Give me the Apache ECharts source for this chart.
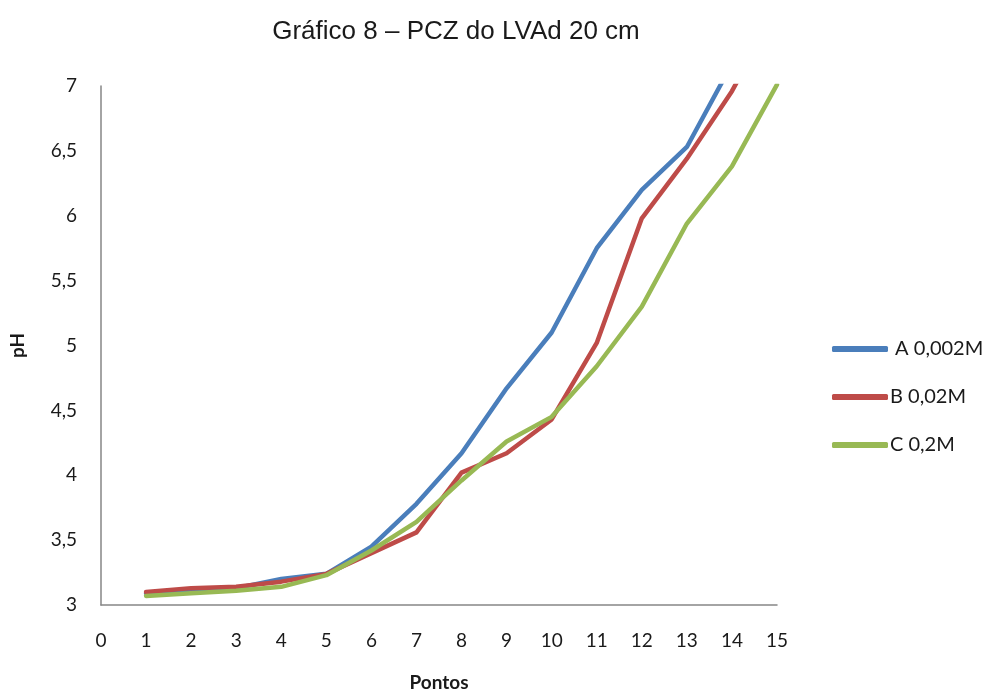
<!DOCTYPE html>
<html>
<head>
<meta charset="utf-8">
<script src="https://cdn.jsdelivr.net/npm/echarts@6/dist/echarts.min.js"></script>
<style>
  html, body { margin: 0; padding: 0; background: #fff; }
  #chart { width: 1003px; height: 697px; }
</style>
</head>
<body>
<div id="chart"></div>
<script>
// Pontos (x) and pH readings for each solution
const pontos = [1, 2, 3, 4, 5, 6, 7, 8, 9, 10, 11, 12, 13, 14, 15];
const phA = [3.09, 3.12, 3.13, 3.20, 3.24, 3.45, 3.78, 4.17, 4.67, 5.10, 5.75, 6.20, 6.53, 7.17, 7.80];
const phB = [3.10, 3.13, 3.14, 3.18, 3.24, 3.40, 3.56, 4.02, 4.17, 4.43, 5.02, 5.98, 6.44, 6.96, 7.60];
const phC = [3.07, 3.09, 3.11, 3.14, 3.23, 3.42, 3.64, 3.96, 4.26, 4.45, 4.84, 5.30, 5.94, 6.38, 7.01];
const seriesNames = [' A 0,002M', 'B 0,02M', 'C 0,2M'];
const seriesColors = ['#4A7EBB', '#BE4B48', '#98B954'];
const xTicks = { min: 0, max: 15, step: 1 };
const yTicks = { min: 3, max: 7, step: 0.5 };

const tickFont = 'Lato, "Open Sans", sans-serif';
const toPairs = ys => pontos.map((x, i) => [x, ys[i]]);

const chart = echarts.init(document.getElementById('chart'), null, { renderer: 'canvas' });
chart.setOption({
  animation: false,
  backgroundColor: '#ffffff',
  title: {
    text: 'Gráfico 8 – PCZ do LVAd 20 cm',
    left: 451,
    textAlign: 'center',
    top: 14,
    textStyle: { fontFamily: '"Liberation Sans", Arial, sans-serif', fontSize: 26, fontWeight: 'normal', color: '#1a1a1a' }
  },
  legend: {
    orient: 'vertical',
    left: 832,
    top: 339,
    padding: 0,
    itemWidth: 56,
    itemHeight: 6,
    itemGap: 28,
    icon: 'roundRect',
    data: seriesNames,
    textStyle: { fontFamily: tickFont, fontSize: 20, lineHeight: 20, color: '#1a1a1a', padding: [0, 0, 0, -3] }
  },
  grid: { left: 101, top: 86, right: 226, bottom: 83, containLabel: false },
  xAxis: {
    type: 'value',
    min: xTicks.min,
    max: xTicks.max,
    interval: xTicks.step,
    name: 'Pontos',
    nameLocation: 'middle',
    nameGap: 68,
    nameTextStyle: { fontFamily: tickFont, fontSize: 19, fontWeight: 'bold', color: '#1a1a1a' },
    axisLine: { show: true, lineStyle: { color: '#868686', width: 1.5 } },
    axisTick: { show: false },
    splitLine: { show: false },
    axisLabel: { margin: 26, fontFamily: tickFont, fontSize: 19, color: '#1a1a1a' }
  },
  yAxis: {
    type: 'value',
    min: yTicks.min,
    max: yTicks.max,
    interval: yTicks.step,
    name: 'pH',
    nameLocation: 'middle',
    nameGap: 74,
    nameTextStyle: { fontFamily: tickFont, fontSize: 19, fontWeight: 'bold', color: '#1a1a1a' },
    axisLine: { show: true, lineStyle: { color: '#868686', width: 1.5 } },
    axisTick: { show: false },
    splitLine: { show: false },
    axisLabel: {
      margin: 24,
      fontFamily: tickFont,
      fontSize: 19,
      color: '#1a1a1a',
      formatter: v => String(v).replace('.', ',')
    }
  },
  series: [phA, phB, phC].map((ys, i) => ({
    name: seriesNames[i],
    type: 'line',
    data: toPairs(ys),
    showSymbol: false,
    symbol: 'none',
    clip: true,
    color: seriesColors[i],
    lineStyle: { color: seriesColors[i], width: 4.5, cap: 'round', join: 'round' }
  }))
});
</script>
</body>
</html>
